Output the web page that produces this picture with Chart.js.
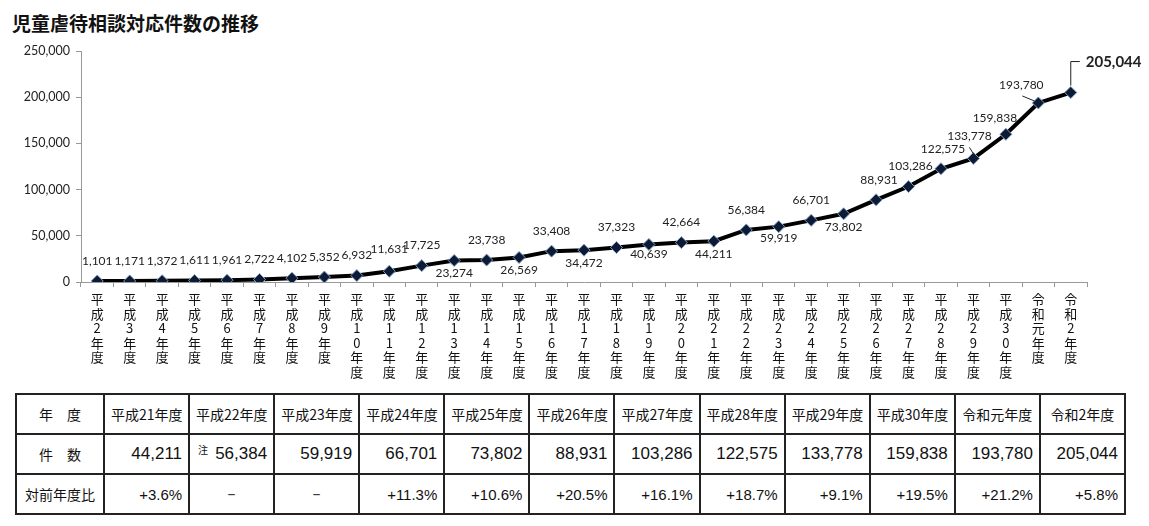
<!DOCTYPE html>
<html>
<head>
<meta charset="utf-8">
<script src="https://cdn.jsdelivr.net/npm/chart.js@4"></script>
<style>
  body { margin: 0; background: #fff; width: 1149px; height: 526px; position: relative; overflow: hidden; }
  #title { position: absolute; left: 12px; top: 10px; font: bold 19px "Noto Sans CJK JP", sans-serif; color: #111; line-height: 26px; }
  #wrap { position: absolute; left: 0; top: 0; width: 1149px; height: 392px; }
  table { position: absolute; left: 15px; top: 393px; width: 1111px; border-collapse: collapse; table-layout: fixed; }
  td { border: 2px solid #222; height: 38px; padding: 0 6px; color: #111; white-space: nowrap; }
  td.head { width: 74px; text-align: center; font: 14px "Noto Sans CJK JP", sans-serif; }
  tr.yr td { text-align: center; font: 14px "Noto Sans CJK JP", sans-serif; }
  tr.cnt td.v { text-align: right; font: 17px "Liberation Sans", sans-serif; position: relative; }
  tr.pct td.v { text-align: right; font: 15px "Liberation Sans", sans-serif; }
  sup { position: absolute; left: 8px; top: 7px; font: 10px "Noto Sans CJK JP", sans-serif; }
</style>
</head>
<body>
<div id="title">児童虐待相談対応件数の推移</div>
<div id="wrap"><canvas id="myChart"></canvas></div>
<table id="tbl"></table>
<script>
// chart data
const years = ["平成2年度", "平成3年度", "平成4年度", "平成5年度", "平成6年度", "平成7年度", "平成8年度",
  "平成9年度", "平成10年度", "平成11年度", "平成12年度", "平成13年度", "平成14年度", "平成15年度",
  "平成16年度", "平成17年度", "平成18年度", "平成19年度", "平成20年度", "平成21年度", "平成22年度",
  "平成23年度", "平成24年度", "平成25年度", "平成26年度", "平成27年度", "平成28年度", "平成29年度",
  "平成30年度", "令和元年度", "令和2年度"];
const counts = [1101, 1171, 1372, 1611, 1961, 2722, 4102, 5352, 6932, 11631, 17725, 23274, 23738, 26569,
  33408, 34472, 37323, 40639, 42664, 44211, 56384, 59919, 66701, 73802, 88931, 103286, 122575, 133778,
  159838, 193780, 205044];
const yTicks = [0, 50000, 100000, 150000, 200000, 250000];

// table data
const tableYears = ["平成21年度", "平成22年度", "平成23年度", "平成24年度", "平成25年度", "平成26年度",
  "平成27年度", "平成28年度", "平成29年度", "平成30年度", "令和元年度", "令和2年度"];
const tableCounts = [44211, 56384, 59919, 66701, 73802, 88931, 103286, 122575, 133778, 159838, 193780, 205044];
const tableRatio = ["+3.6%", "－", "－", "+11.3%", "+10.6%", "+20.5%", "+16.1%", "+18.7%", "+9.1%", "+19.5%", "+21.2%", "+5.8%"];

// label placement: a = above, b = below
const labelSide = "aaaaaaaaaaabababababababaaaaaaa";
const labelShift = { 9: [0, -2], 17: [0, -3], 21: [0, -2], 24: [3, 0], 25: [2, 0], 26: [2, 0], 27: [-4, -2], 28: [-11, 4], 29: [-17, 2] };

const fmt = v => v.toLocaleString("en-US");

const valueLabels = {
  id: "valueLabels",
  afterDatasetsDraw(chart) {
    const ctx = chart.ctx;
    const pts = chart.getDatasetMeta(0).data;
    ctx.save();
    ctx.fillStyle = "#222";
    ctx.strokeStyle = "#222";
    ctx.lineWidth = 1;
    pts.forEach((p, i) => {
      const v = counts[i];
      if (i === counts.length - 1) {
        ctx.beginPath();
        ctx.moveTo(p.x, p.y - 7);
        ctx.lineTo(p.x, p.y - 31);
        ctx.lineTo(p.x + 9, p.y - 31);
        ctx.stroke();
        ctx.font = "bold 15px Lato";
        ctx.textAlign = "left";
        ctx.textBaseline = "middle";
        ctx.fillText(fmt(v), p.x + 15, p.y - 30);
        return;
      }
      let dy = labelSide[i] === "a" ? -20 : 13;
      let dx = 0;
      if (labelShift[i]) { dx += labelShift[i][0]; dy += labelShift[i][1]; }
      if (i === 27) {
        ctx.beginPath(); ctx.moveTo(p.x - 4, p.y - 11); ctx.lineTo(p.x + 1, p.y - 3); ctx.stroke();
      }
      if (i === 29) {
        ctx.beginPath(); ctx.moveTo(p.x - 16, p.y - 7); ctx.lineTo(p.x - 4, p.y - 2); ctx.stroke();
      }
      ctx.font = "12px Lato";
      ctx.textAlign = "center";
      ctx.textBaseline = "middle";
      ctx.fillText(fmt(v), p.x + dx, p.y + dy);
    });
    ctx.restore();
  }
};

const ctx = document.getElementById("myChart").getContext("2d");
const chart = new Chart(ctx, {
  type: "line",
  data: {
    labels: years,
    datasets: [{
      data: counts,
      borderColor: "#000",
      borderWidth: 4,
      tension: 0,
      pointStyle: "rectRot",
      pointRadius: 6,
      pointBackgroundColor: "#0d1a33",
      pointBorderColor: "#7f9cc4",
      pointBorderWidth: 1
    }]
  },
  options: {
    responsive: true,
    maintainAspectRatio: false,
    animation: false,
    layout: { padding: { top: 51, right: 62, left: 0, bottom: 0 } },
    plugins: { legend: { display: false }, tooltip: { enabled: false } },
    scales: {
      x: {
        offset: true,
        border: { color: "#999", width: 1 },
        grid: { offset: true, drawOnChartArea: false, tickLength: 5, color: "#999" },
        ticks: {
          autoSkip: false, maxRotation: 0, padding: 5, color: "#111",
          font: { family: "Noto Sans CJK JP", size: 13, lineHeight: 1.12 },
          callback: function (val) { return this.getLabelForValue(val).split(""); }
        },
        afterFit: s => { s.height = 110; }
      },
      y: {
        min: 0, max: 250000,
        afterBuildTicks: s => { s.ticks = yTicks.map(v => ({ value: v })); },
        border: { color: "#999", width: 1 },
        grid: { drawOnChartArea: false, tickLength: 5, color: "#999" },
        ticks: { padding: 6, color: "#222", font: { family: "Lato", size: 12.5 }, callback: v => fmt(v) },
        afterFit: s => { s.width = 81; }
      }
    }
  },
  plugins: [valueLabels]
});

// build table
const tbl = document.getElementById("tbl");
let html = '<tr class="yr"><td class="head">年　度</td>' + tableYears.map(y => "<td>" + y + "</td>").join("") + "</tr>";
html += '<tr class="cnt"><td class="head">件　数</td>' + tableCounts.map((c, i) =>
  '<td class="v">' + (i === 1 ? "<sup>注</sup>" : "") + fmt(c) + "</td>").join("") + "</tr>";
html += '<tr class="pct"><td class="head">対前年度比</td>' + tableRatio.map(r =>
  '<td class="v"' + (r === "－" ? ' style="text-align:center"' : "") + ">" + r + "</td>").join("") + "</tr>";
tbl.innerHTML = html;
</script>
</body>
</html>
